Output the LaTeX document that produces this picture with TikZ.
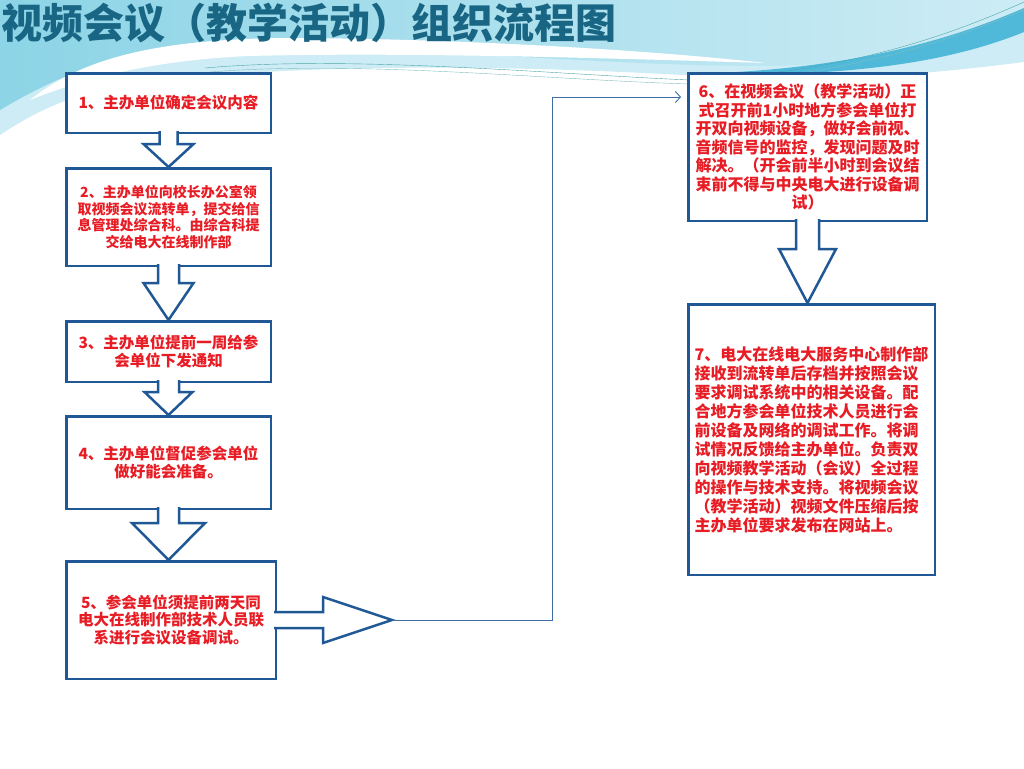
\documentclass[tikz,border=0pt]{standalone}
\usepackage{fontspec}
\newfontfamily\cjk{Noto Sans CJK SC}
\usetikzlibrary{positioning,calc,arrows.meta}
\usepackage{xcolor}
\definecolor{boxblue}{RGB}{31,88,148}
\definecolor{textred}{RGB}{232,28,36}
\definecolor{titleteal}{RGB}{24,102,132}
\definecolor{skycyan}{RGB}{140,212,230}
\definecolor{skypale}{RGB}{205,236,245}
\definecolor{streakcyan}{RGB}{80,185,218}
\definecolor{linkblue}{RGB}{60,110,165}

\begin{document}
\begin{tikzpicture}[x=1pt, y=-1pt, node distance=33pt,
    stepbox/.style={rectangle, draw=boxblue, line width=2.5pt, fill=white, align=center, text=textred, inner sep=0pt, minimum width=204.5pt,
        font=\cjk\bfseries\fontsize{15.5}{18}\selectfont},
    fatarrow/.style={draw=boxblue, line width=2.5pt, fill=white, line join=miter},
    link/.style={draw=linkblue, line width=0.9pt, -{Straight Barb[length=5pt,width=11pt]}}]

    % background
    \fill[white] (0,0) rectangle (1024,768);
    \useasboundingbox (0,0) rectangle (1024,768);
    \fill[skypale] (0,0) -- (1024,0) -- (1024,62) .. controls (900,78) and (800,82) .. (700,76)
        .. controls (500,64) and (250,62) .. (100,90) .. controls (60,100) and (30,115) .. (0,135) -- cycle;
    \shade[left color=skycyan, right color=skypale] (0,0) -- (1024,0) -- (1024,15) .. controls (950,45) and (850,66) .. (765,66)
        .. controls (600,66) and (400,45) .. (200,45) .. controls (120,48) and (50,80) .. (0,110) -- cycle;
    \fill[white] (30,100) .. controls (80,60) and (150,40) .. (280,38) .. controls (450,38) and (650,50) .. (765,63)
        .. controls (600,58) and (400,52) .. (250,56) .. controls (150,60) and (80,80) .. (30,100) -- cycle;
    \fill[streakcyan] (690,74) .. controls (850,70) and (950,40) .. (1024,8) -- (1024,32)
        .. controls (950,62) and (850,78) .. (690,74) -- cycle;
    \draw[teal!70, line width=0.4pt] (205,68) .. controls (350,55) and (550,74) .. (690,80) .. controls (850,72) and (950,35) .. (1024,2);
    \draw[teal!50, line width=0.4pt] (210,72) .. controls (360,60) and (550,80) .. (690,84) .. controls (850,76) and (950,40) .. (1024,10);

    % title
    \node[font=\cjk\bfseries\fontsize{41}{41}\selectfont, text=titleteal, anchor=west, inner sep=0pt] (title) at (1,23)
        {视频会议（教学活动）组织流程图};

    % left column
    \node[stepbox, minimum height=59.5pt] (s1) at (168.5,103) {1、主办单位确定会议内容};
    \node[stepbox, minimum height=97.5pt, below=33pt of s1, font=\cjk\bfseries\fontsize{14}{16.7}\selectfont] (s2)
        {2、主办单位向校长办公室领\\取视频会议流转单，提交给信\\息管理处综合科。由综合科提\\交给电大在线制作部};
    \node[stepbox, minimum height=60.5pt, below=53pt of s2] (s3) {3、主办单位提前一周给参\\会单位下发通知};
    \node[stepbox, minimum height=92.5pt, below=32pt of s3] (s4) {4、主办单位督促参会单位\\做好能会准备。};
    \node[stepbox, minimum height=117.5pt, minimum width=209.5pt, below=50pt of s4, xshift=2.5pt, font=\cjk\bfseries\fontsize{15.5}{17.5}\selectfont] (s5)
        {5、参会单位须提前两天同\\电大在线制作部技术人员联\\系进行会议设备调试。};

    % right column
    \node[stepbox, minimum height=147.5pt, minimum width=238.5pt, font=\cjk\bfseries\fontsize{16}{18.5}\selectfont] (s6) at (807.5,147)
        {6、在视频会议（教学活动）正\\式召开前1小时地方参会单位打\\开双向视频设备，做好会前视、\\音频信号的监控，发现问题及时\\解决。（开会前半小时到会议结\\束前不得与中央电大进行设备调\\试）};
    \node[stepbox, minimum height=270.5pt, minimum width=246.5pt, below=81pt of s6, xshift=4pt, align=left, font=\cjk\bfseries\fontsize{16}{19}\selectfont] (s7)
        {7、电大在线电大服务中心制作部\\接收到流转单后存档并按照会议\\要求调试系统中的相关设备。配\\合地方参会单位技术人员进行会\\前设备及网络的调试工作。将调\\试情况反馈给主办单位。负责双\\向视频教学活动（会议）全过程\\的操作与技术支持。将视频会议\\（教学活动）视频文件压缩后按\\主办单位要求发布在网站上。};

    % block arrows down
    \foreach \a/\b/\w/\d/\h in {s1/s2/9/10/25, s2/s3/10.5/16/25, s3/s4/10.5/9/24, s4/s5/10.5/13/36.5, s6/s7/11.5/27/28.5}
        \filldraw[fatarrow] ($(\a.south)+(-\w,-3)$) -- ($(\a.south)+(-\w,\d)$) -- ($(\a.south)+(-\h,\d)$) -- (\a.south |- \b.north)
            -- ($(\a.south)+(\h,\d)$) -- ($(\a.south)+(\w,\d)$) -- ($(\a.south)+(\w,-3)$);

    % block arrow right
    \coordinate (tip5) at ($(s5.east)+(115,0)$);
    \filldraw[fatarrow] ($(s5.east)+(-3,-8)$) -- ($(s5.east)+(46,-8)$) -- ($(s5.east)+(46,-23)$) -- (tip5)
        -- ($(s5.east)+(46,23)$) -- ($(s5.east)+(46,8)$) -- ($(s5.east)+(-3,8)$);

    % link to step 6
    \draw[link] (tip5) -- ++(160,0) |- ($(s6.north west)+(-6,25)$);
\end{tikzpicture}
\end{document}
